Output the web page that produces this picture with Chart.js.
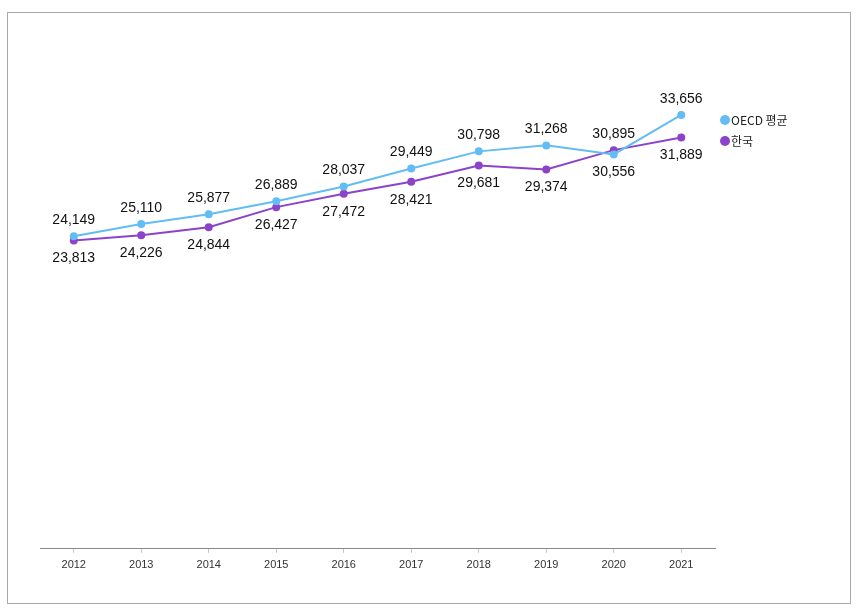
<!DOCTYPE html>
<html>
<head>
<meta charset="utf-8">
<script src="https://cdn.jsdelivr.net/npm/chart.js@4"></script>
<style>
  html, body { margin: 0; padding: 0; background: #fff; }
</style>
</head>
<body>
<canvas id="chart" width="860" height="613"></canvas>
<script>
var years = ['2012', '2013', '2014', '2015', '2016', '2017', '2018', '2019', '2020', '2021']
var oecdAvg = [24149, 25110, 25877, 26889, 28037, 29449, 30798, 31268, 30556, 33656]
var korea = [23813, 24226, 24844, 26427, 27472, 28421, 29681, 29374, 30895, 31889]

var oecdColor = '#62bdf4'
var koreaColor = '#8c43c9'

// frame round the whole picture
var framePlugin = {
  id: 'frame',
  beforeDraw: function (chart) {
    var c = chart.ctx
    c.save()
    c.fillStyle = '#fff'
    c.fillRect(0, 0, chart.width, chart.height)
    c.strokeStyle = '#a8a8a8'
    c.lineWidth = 1
    c.strokeRect(7.5, 12.5, 843, 591)
    c.restore()
  }
}

// value labels: higher series above the point, lower one below
var labelPlugin = {
  id: 'valueLabels',
  afterDatasetsDraw: function (chart) {
    var c = chart.ctx
    c.save()
    c.font = '14px "Liberation Sans", Arial, sans-serif'
    c.fillStyle = '#111'
    c.textAlign = 'center'
    c.textBaseline = 'middle'
    var a = chart.getDatasetMeta(0).data
    var b = chart.getDatasetMeta(1).data
    for (var i = 0; i < years.length; i++) {
      var aUp = oecdAvg[i] >= korea[i]
      c.fillText(oecdAvg[i].toLocaleString('en-US'), a[i].x, aUp ? a[i].y - 16 : a[i].y + 18)
      c.fillText(korea[i].toLocaleString('en-US'), b[i].x, aUp ? b[i].y + 18 : b[i].y - 16)
    }
    c.restore()
  }
}

// legend on the right, next to the last points
var legendPlugin = {
  id: 'sideLegend',
  afterDraw: function (chart) {
    var c = chart.ctx
    c.save()
    c.font = '12px "Noto Sans CJK KR", "Noto Sans", sans-serif'
    c.textBaseline = 'middle'
    chart.data.datasets.forEach(function (ds, i) {
      var y = 120 + i * 21
      c.fillStyle = ds.borderColor
      c.beginPath()
      c.arc(725, y, 5, 0, Math.PI * 2)
      c.fill()
      c.fillStyle = '#222'
      c.fillText(ds.label, 731, y)
    })
    c.restore()
  }
}

var ctx = document.getElementById('chart').getContext('2d')
var chart = new Chart(ctx, {
  type: 'line',
  data: {
    labels: years,
    datasets: [{
      label: 'OECD 평균',
      data: oecdAvg,
      borderColor: oecdColor,
      backgroundColor: oecdColor,
      borderWidth: 2,
      pointRadius: 3,
      tension: 0
    }, {
      label: '한국',
      data: korea,
      borderColor: koreaColor,
      backgroundColor: koreaColor,
      borderWidth: 2,
      pointRadius: 3,
      tension: 0
    }]
  },
  options: {
    responsive: false,
    animation: false,
    layout: {
      padding: { left: 40, right: 145, top: 34, bottom: 35 }
    },
    plugins: {
      legend: { display: false },
      tooltip: { enabled: false }
    },
    scales: {
      x: {
        offset: true,
        grid: {
          offset: false,
          drawOnChartArea: false,
          drawTicks: true,
          tickLength: 4,
          color: '#c8c8c8'
        },
        border: { color: '#8a8a8a', width: 1 },
        ticks: {
          color: '#333',
          padding: 6,
          font: { family: '"Liberation Sans", Arial, sans-serif', size: 11 }
        }
      },
      y: {
        display: false,
        min: -360,
        max: 40000
      }
    }
  },
  plugins: [framePlugin, labelPlugin, legendPlugin]
})
</script>
</body>
</html>
